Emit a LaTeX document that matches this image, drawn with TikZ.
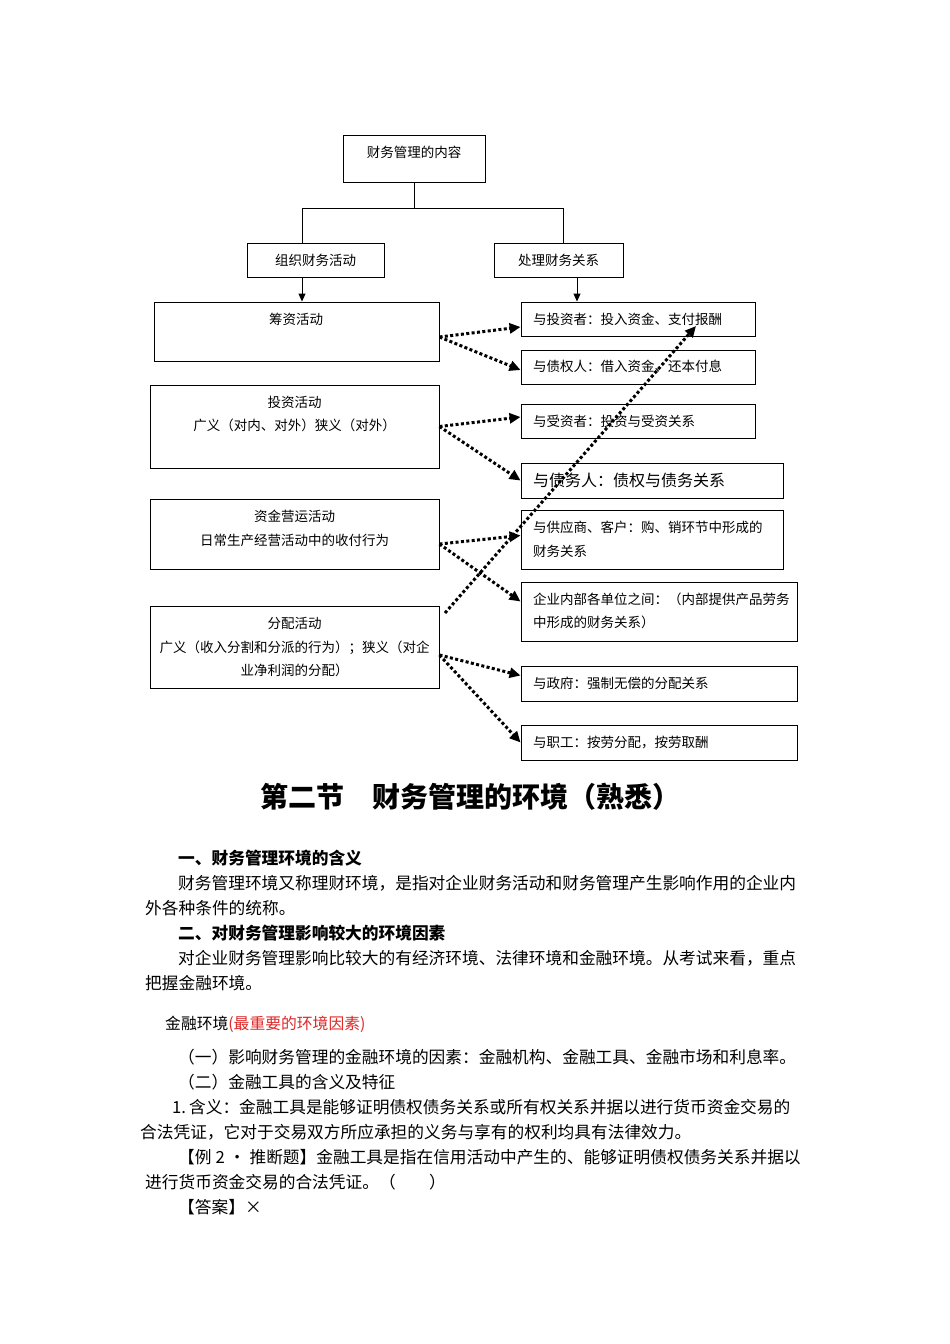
\documentclass[tikz,border=0pt]{standalone}
\usepackage{fontspec}
\setmainfont{Noto Sans CJK SC}
\usetikzlibrary{arrows.meta}
\definecolor{redtxt}{RGB}{220,40,40}
\begin{document}
\begin{tikzpicture}[x=1pt,y=-1pt,
  box/.style={draw=black, line width=0.9pt, inner sep=0pt},
  dtxt/.style={font=\fontsize{13.5}{23.5}\selectfont, inner sep=0pt},
  rtxt/.style={dtxt, anchor=west, align=left},
  btxt/.style={font=\fontsize{16.7}{25}\selectfont, inner sep=0pt, anchor=west},
  hdtxt/.style={font=\fontsize{16.7}{25}\selectfont\bfseries, inner sep=0pt, anchor=west},
  solidarr/.style={line width=0.9pt, -{Triangle[length=8pt,width=7pt]}},
  dotarr/.style={line width=3pt, dash pattern=on 3pt off 2.4pt, -{Triangle[length=11pt,width=10pt]}}
]
\useasboundingbox[fill=white] (0,0) rectangle (950,1344);

% top boxes
\node[box, minimum width=142pt, minimum height=47pt] (top) at (414,158.5) {};
\node[dtxt] (topt) at (414,152) {财务管理的内容};
\node[box, minimum width=137pt, minimum height=34pt] (zz) at (315.5,260) {};
\node[dtxt] (zzt) at (315.5,260) {组织财务活动};
\node[box, minimum width=129pt, minimum height=34pt] (cl) at (558.5,260) {};
\node[dtxt] (clt) at (558.5,260) {处理财务关系};

% left boxes
\node[box, minimum width=285pt, minimum height=59pt] (cz) at (296.5,331.5) {};
\node[dtxt] (czt) at (296,319) {筹资活动};
\node[box, minimum width=289pt, minimum height=83pt] (tz) at (294.5,426.5) {};
\node[dtxt, align=center] (tzt) at (294.5,414) {投资活动\\广义（对内、对外）狭义（对外）};
\node[box, minimum width=289pt, minimum height=70pt] (zj) at (294.5,534) {};
\node[dtxt, align=center] (zjt) at (294.5,528.5) {资金营运活动\\日常生产经营活动中的收付行为};
\node[box, minimum width=289pt, minimum height=82pt] (fp) at (294.5,647) {};
\node[dtxt, align=center] (fpt) at (294.5,647) {分配活动\\广义（收入分割和分派的行为）；狭义（对企\\业净利润的分配）};

% right boxes
\node[box, minimum width=234pt, minimum height=34pt] (r1) at (638,319) {};
\node[rtxt] (r1t) at (533,319) {与投资者：投入资金、支付报酬};
\node[box, minimum width=234pt, minimum height=34pt] (r2) at (638,367) {};
\node[rtxt] (r2t) at (533,366) {与债权人：借入资金、还本付息};
\node[box, minimum width=234pt, minimum height=34pt] (r3) at (638,421) {};
\node[rtxt] (r3t) at (533,421) {与受资者：投资与受资关系};
\node[box, minimum width=262pt, minimum height=35pt] (r4) at (652,480.5) {};
\node[rtxt, font=\fontsize{16}{20}\selectfont] (r4t) at (533,480.5) {与债务人：债权与债务关系};
\node[box, minimum width=262pt, minimum height=59pt] (r5) at (652,539.5) {};
\node[rtxt] (r5t) at (533,539.5) {与供应商、客户：购、销环节中形成的\\财务关系};
\node[box, minimum width=276pt, minimum height=59pt] (r6) at (659,611.5) {};
\node[rtxt] (r6t) at (533,611) {企业内部各单位之间：（内部提供产品劳务\\中形成的财务关系）};
\node[box, minimum width=276pt, minimum height=35pt] (r7) at (659,683.5) {};
\node[rtxt] (r7t) at (533,683.5) {与政府：强制无偿的分配关系};
\node[box, minimum width=276pt, minimum height=35pt] (r8) at (659,742.5) {};
\node[rtxt] (r8t) at (533,742.5) {与职工：按劳分配，按劳取酬};

% tree connectors
\coordinate (jn) at (414,208);
\coordinate (jl) at (302,208);
\coordinate (jr) at (563,208);
\coordinate (ar) at (577,208);
\draw[line width=0.9pt] (top.south) -- (jn);
\draw[line width=0.9pt] (jl) -- (jr);
\draw[line width=0.9pt] (jl) -- (jl |- zz.north);
\draw[line width=0.9pt] (jr) -- (jr |- cl.north);
\draw[solidarr] (zz.south -| jl) -- (jl |- cz.north);
\draw[solidarr] (cl.south -| ar) -- (ar |- r1.north);

% dotted arrows
\draw[dotarr] ([yshift=-5.5pt]cz.east) -- ([yshift=-8pt]r1.west);
\draw[dotarr] ([yshift=-5.5pt]cz.east) -- ([yshift=-3pt]r2.west);
\draw[dotarr] (tz.east) -- ([yshift=4pt]r3.west);
\draw[dotarr] (tz.east) -- (r4.west);
\draw[dotarr] ([yshift=-10pt]zj.east) -- ([yshift=4pt]r5.west);
\draw[dotarr] ([yshift=-10pt]zj.east) -- ([yshift=10pt]r6.west);
\draw[dotarr] ([yshift=-8pt]fp.east) -- ([yshift=8pt]r7.west);
\draw[dotarr] ([yshift=-8pt]fp.east) -- (r8.west);
\coordinate (ls) at (445,613);
\coordinate (le) at (696,326);
\draw[dotarr] (ls) -- (le);

% text section
\node[font=\fontsize{28}{32}\selectfont\bfseries, inner sep=0pt] (title) at (470,797) {第二节\hspace{1em}财务管理的环境（熟悉）};
\node[hdtxt] (h1) at (178,858) {一、财务管理环境的含义};
\node[btxt] (p1a) at (178,883) {财务管理环境又称理财环境，是指对企业财务活动和财务管理产生影响作用的企业内};
\node[btxt] (p1b) at (145,908) {外各种条件的统称。};
\node[hdtxt] (h2) at (178,933) {二、对财务管理影响较大的环境因素};
\node[btxt] (p2a) at (178,958) {对企业财务管理影响比较大的有经济环境、法律环境和金融环境。从考试来看，重点};
\node[btxt] (p2b) at (145,983) {把握金融环境。};
\node[btxt, font=\fontsize{15.8}{20}\selectfont] (jr1) at (165,1024) {金融环境\textcolor{redtxt}{(最重要的环境因素)}};
\node[btxt] (l1) at (178,1057) {（一）影响财务管理的金融环境的因素：金融机构、金融工具、金融市场和利息率。};
\node[btxt] (l2) at (178,1082) {（二）金融工具的含义及特征};
\node[btxt] (l3a) at (172,1107) {1.\hspace{3pt}含义：金融工具是能够证明债权债务关系或所有权关系并据以进行货币资金交易的};
\node[btxt] (l3b) at (140,1132) {合法凭证，它对于交易双方所应承担的义务与享有的权利均具有法律效力。};
\node[btxt] (l4a) at (178,1157) {【例\hspace{4pt}2\hspace{4pt}·\hspace{4pt}推断题】金融工具是指在信用活动中产生的、能够证明债权债务关系并据以};
\node[btxt] (l4b) at (145,1182) {进行货币资金交易的合法凭证。（\hspace{2em}）};
\node[btxt] (l5) at (178,1207) {【答案】×};
\end{tikzpicture}
\end{document}
